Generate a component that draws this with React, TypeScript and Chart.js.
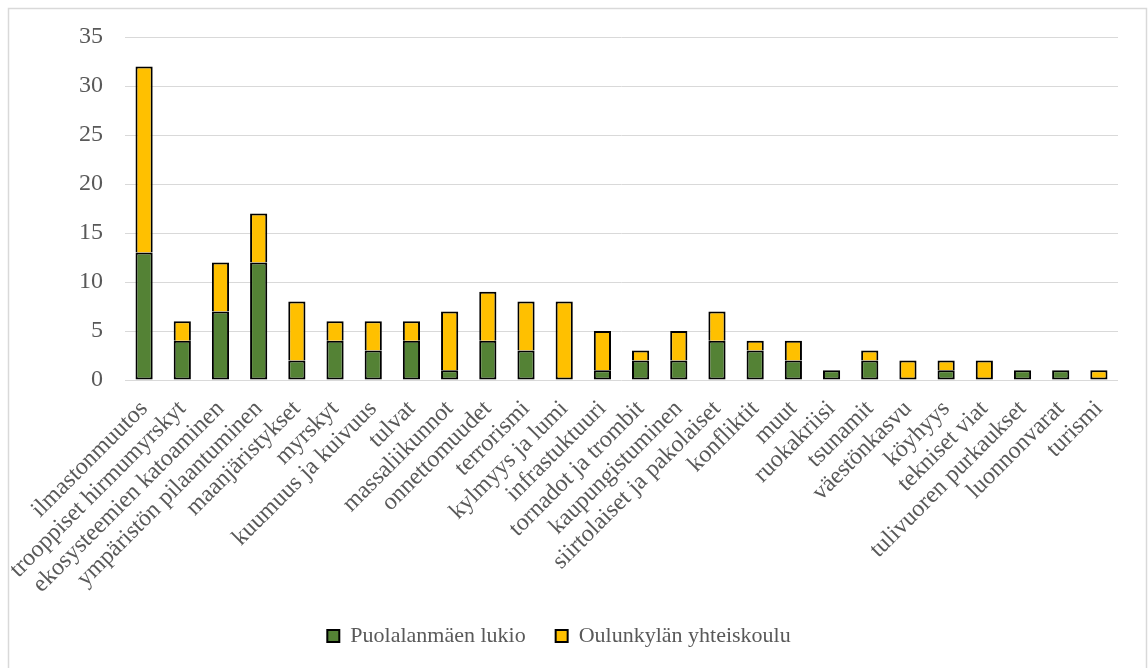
import React, { useEffect, useRef } from "react";
import { Chart, registerables } from "chart.js";

Chart.register(...registerables);

const categories: string[] = [
  "ilmastonmuutos",
  "trooppiset hirmumyrskyt",
  "ekosysteemien katoaminen",
  "ympäristön pilaantuminen",
  "maanjäristykset",
  "myrskyt",
  "kuumuus ja kuivuus",
  "tulvat",
  "massaliikunnot",
  "onnettomuudet",
  "terrorismi",
  "kylmyys ja lumi",
  "infrastuktuuri",
  "tornadot ja trombit",
  "kaupungistuminen",
  "siirtolaiset ja pakolaiset",
  "konfliktit",
  "muut",
  "ruokakriisi",
  "tsunamit",
  "väestönkasvu",
  "köyhyys",
  "tekniset viat",
  "tulivuoren purkaukset",
  "luonnonvarat",
  "turismi",
];

const puolalanmaki: number[] = [13, 4, 7, 12, 2, 4, 3, 4, 1, 4, 3, 0, 1, 2, 2, 4, 3, 2, 1, 2, 0, 1, 0, 1, 1, 0];
const oulunkyla: number[] = [19, 2, 5, 5, 6, 2, 3, 2, 6, 5, 5, 8, 4, 1, 3, 3, 1, 2, 0, 1, 2, 1, 2, 0, 0, 1];

const seriesNames: string[] = ["Puolalanmäen lukio", "Oulunkylän yhteiskoulu"];
const yTicks: number[] = [0, 5, 10, 15, 20, 25, 30, 35];

const FONT = "'Liberation Serif', 'Times New Roman', serif";
const TEXT = "#595959";

const borderPlugin = {
  id: "outerBorder",
  beforeDraw(chart: any) {
    const ctx = chart.ctx;
    ctx.save();
    ctx.fillStyle = "#ffffff";
    ctx.fillRect(0, 0, chart.width, chart.height);
    ctx.strokeStyle = "#d9d9d9";
    ctx.lineWidth = 1.5;
    ctx.strokeRect(8.5, 8.5, 1138, 700);
    ctx.restore();
  },
};

export default function App() {
  const ref = useRef<HTMLCanvasElement | null>(null);
  useEffect(() => {
    if (!ref.current) return;
    const chart = new Chart(ref.current, {
      type: "bar",
      data: {
        labels: categories,
        datasets: [
          {
            label: seriesNames[0],
            data: puolalanmaki.map((v) => (v === 0 ? null : v)),
            backgroundColor: "#548235",
            borderColor: "#000000",
            borderWidth: { left: 2, right: 2, bottom: 2, top: 2 },
            borderSkipped: false,
            categoryPercentage: 1,
            barPercentage: 0.45,
          },
          {
            label: seriesNames[1],
            data: oulunkyla.map((v) => (v === 0 ? null : v)),
            backgroundColor: "#FFC000",
            borderColor: "#000000",
            borderWidth: (c: any) => ({
              left: 2,
              right: 2,
              top: 2,
              bottom: puolalanmaki[c.dataIndex] > 0 ? 0 : 2,
            }),
            borderSkipped: false,
            categoryPercentage: 1,
            barPercentage: 0.45,
          },
        ],
      },
      options: {
        responsive: false,
        animation: false,
        layout: { padding: { top: 37, right: 30, left: 0, bottom: 11 } },
        plugins: {
          legend: {
            position: "bottom",
            labels: {
              font: { family: FONT, size: 22 },
              color: TEXT,
              boxWidth: 12,
              boxHeight: 12,
              padding: 30,
              generateLabels: (ch: any) =>
                ch.data.datasets.map((ds: any, i: number) => ({
                  text: ds.label,
                  fillStyle: ds.backgroundColor,
                  strokeStyle: "#000000",
                  lineWidth: 2,
                  hidden: false,
                  datasetIndex: i,
                  fontColor: TEXT,
                })),
            },
          },
          tooltip: { enabled: false },
        },
        scales: {
          x: {
            stacked: true,
            grid: { display: false },
            border: { display: false },
            ticks: {
              autoSkip: false,
              maxRotation: 45,
              minRotation: 45,
              color: TEXT,
              font: { family: FONT, size: 24 },
              padding: 7,
            },
            afterFit: (scale: any) => {
              scale.height = 215;
            },
          },
          y: {
            stacked: true,
            min: 0,
            max: 35,
            afterBuildTicks: (scale: any) => {
              scale.ticks = yTicks.map((v) => ({ value: v }));
            },
            grid: { color: "#d9d9d9", lineWidth: 1, drawTicks: false },
            border: { display: false },
            ticks: {
              color: TEXT,
              font: { family: FONT, size: 24 },
              padding: 22,
            },
            afterFit: (scale: any) => {
              scale.width = 125;
            },
          },
        },
      },
      plugins: [borderPlugin],
    });
    return () => chart.destroy();
  }, []);
  return (
    <div style={{ position: "fixed", left: 0, top: 0, width: 1148, height: 668, background: "#fff" }}>
      <canvas ref={ref} width={1148} height={668} style={{ display: "block" }} />
    </div>
  );
}
